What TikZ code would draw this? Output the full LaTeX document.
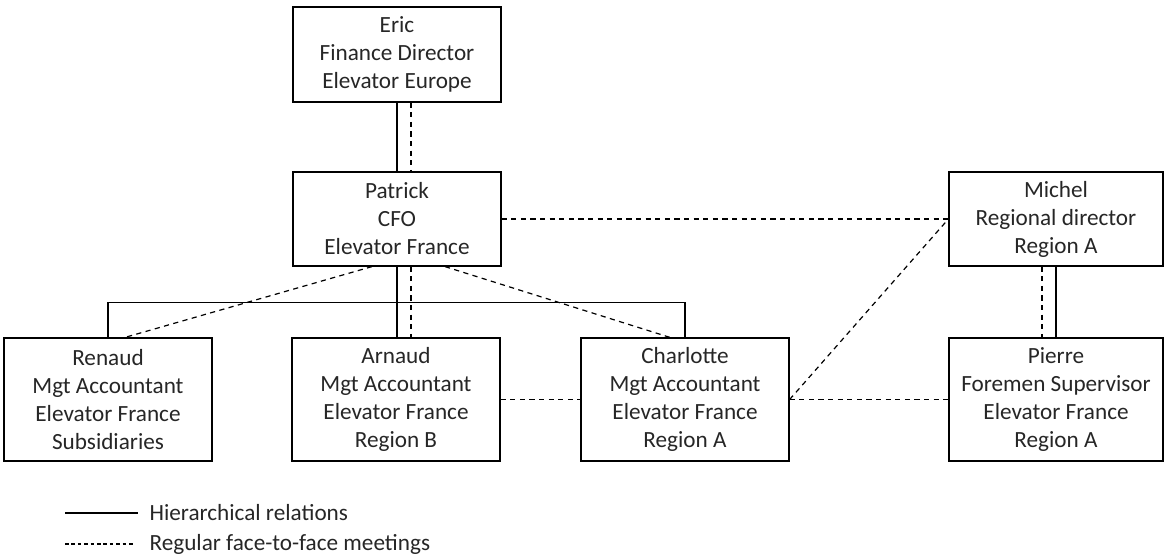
\documentclass[tikz,border=0pt]{standalone}
\usepackage{fontspec}
\setmainfont{Carlito}
\begin{document}
\begin{tikzpicture}[x=0.5pt,y=-0.5pt,line width=0.6pt,
    person/.style={draw, align=center, minimum width=104pt, minimum height=47pt, inner sep=2pt, text=black!85, font=\fontsize{11.6}{14}\selectfont},
    tall/.style={person, minimum height=61.5pt},
    wide/.style={minimum width=107pt},
    meet/.style={dash pattern=on 2.6pt off 2.2pt}]
  \useasboundingbox (0,0) rectangle (1165,558);
  % top of the chart
  \node[person, minimum height=47.5pt] (eric) at (397,54.5) {Eric\\Finance Director\\Elevator Europe};
  \node[person] (patrick) at (397,219) {Patrick\\CFO\\Elevator France};
  \node[person, wide] (michel) at (1056,219) {Michel\\Regional director\\Region A};
  % bottom row
  \node[tall] (renaud) at (108,399.5) {Renaud\\Mgt Accountant\\Elevator France\\Subsidiaries};
  \node[tall] (arnaud) at (396,399.5) {Arnaud\\Mgt Accountant\\Elevator France\\Region B};
  \node[tall] (charlotte) at (685,399.5) {Charlotte\\Mgt Accountant\\Elevator France\\Region A};
  \node[tall, wide] (pierre) at (1056,399.5) {Pierre\\Foremen Supervisor\\Elevator France\\Region A};
  % hierarchy
  \draw (eric.south) -- (patrick.north);
  \draw (patrick.south) -- (patrick.south |- arnaud.north);
  \draw (renaud.north) -- ++(0,-35) -| (charlotte.north);
  \draw (michel.south) -- (pierre.north);
  % meetings
  \draw[meet] ([xshift=7pt]eric.south) -- ([xshift=7pt]patrick.north);
  \draw[meet] ([xshift=7pt]patrick.south) -- ([xshift=7pt]patrick.south |- arnaud.north);
  \draw[meet] ([xshift=-12.5pt]patrick.south) -- ([xshift=8.5pt]renaud.north);
  \draw[meet] ([xshift=24pt]patrick.south) -- ([xshift=-7.5pt]charlotte.north);
  \draw[meet] (patrick.east) -- (michel.west);
  \draw[meet] (charlotte.east) -- (michel.west);
  \draw[meet] (arnaud.east) -- (charlotte.west);
  \draw[meet] (charlotte.east) -- (pierre.west);
  \draw[meet] ([xshift=-7pt]michel.south) -- ([xshift=-7pt]pierre.north);
  % legend
  \node[anchor=west, inner sep=0, text=black!85, font=\fontsize{11.6}{14}\selectfont] (hier) at (149,513) {Hierarchical relations};
  \node[anchor=west, inner sep=0, text=black!85, font=\fontsize{11.6}{14}\selectfont] (f2f) at (149,544) {Regular face-to-face meetings};
  \coordinate (l1) at (65,513);
  \coordinate (l2) at (65,544);
  \draw (l1) -- ([xshift=-5.5pt]hier.west);
  \draw[meet, dash pattern=on 1.8pt off 1.4pt] (l2) -- ([xshift=-7pt]f2f.west);
\end{tikzpicture}
\end{document}
